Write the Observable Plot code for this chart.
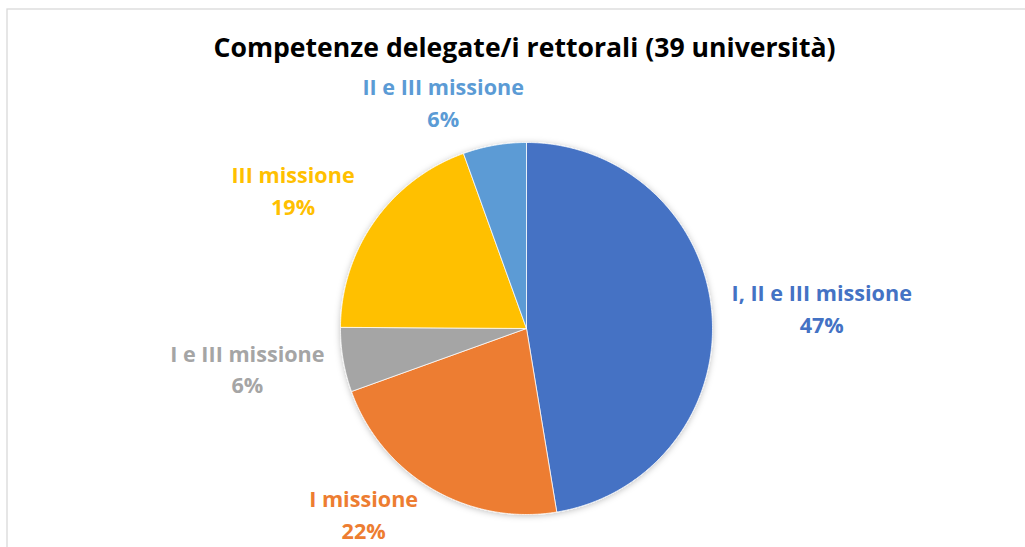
<!DOCTYPE html>
<html>
<head>
<meta charset="utf-8">
<script src="https://cdn.jsdelivr.net/npm/d3@7"></script>
<script src="https://cdn.jsdelivr.net/npm/@observablehq/plot@0.6"></script>
<style>
  html, body { margin: 0; padding: 0; overflow: hidden; background: #fff; }
  #chart { width: 1025px; height: 547px; }
</style>
</head>
<body>
<div id="chart"></div>
<script>
// ---- data ----
const title = "Competenze delegate/i rettorali (39 università)";
const categories = ["I, II e III missione", "I missione", "I e III missione", "III missione", "II e III missione"];
const values = [47.4, 22.1, 5.6, 19.4, 5.5];
const colors = ["#4472C4", "#ED7D31", "#A5A5A5", "#FFC000", "#5B9BD5"];

// ---- layout ----
const W = 1025, H = 547;
const cx = 526, cy = 328, R = 186;
const FONT = "'Open Sans', Lato, sans-serif";
const titleSize = 26.6, labelSize = 21.6, lineGap = 32;
const labelGap = 20;
const labelNudge = [[0, 0], [-31, -11], [0, 3], [-15, -4], [-34, 1]];

const total = d3.sum(values);
const arcs = d3.pie().sort(null).startAngle(0).endAngle(2 * Math.PI)(values);

// slice polygons in unit (radius = 1) coordinates
const slices = [];
arcs.forEach((a, i) => {
  const n = Math.max(2, Math.ceil((a.endAngle - a.startAngle) / (Math.PI / 360)));
  slices.push({cat: categories[i], x: 0, y: 0});
  for (let k = 0; k <= n; k++) {
    const t = a.startAngle + (a.endAngle - a.startAngle) * k / n;
    slices.push({cat: categories[i], x: Math.sin(t), y: Math.cos(t)});
  }
  slices.push({cat: categories[i], x: 0, y: 0});
});

// labels placed outside the end of each slice
const ctx = document.createElement("canvas").getContext("2d");
ctx.font = `bold ${labelSize}px ${FONT}`;
const labels = arcs.map((a, i) => {
  const m = (a.startAngle + a.endAngle) / 2;
  const s = Math.sin(m), c = Math.cos(m);
  const w = ctx.measureText(categories[i]).width;
  const h = lineGap + labelSize * 0.7;
  let px = cx + (R + labelGap) * s + s * w / 2 + labelNudge[i][0];
  let py = cy - (R + labelGap) * c - c * h / 2 + labelNudge[i][1];
  return {
    cat: categories[i],
    text: categories[i] + "\n" + Math.round(values[i] / total * 100) + "%",
    x: (px - cx) / R,
    y: (cy - py) / R
  };
});

const chart = Plot.plot({
  width: W,
  height: H,
  margin: 0,
  style: {fontFamily: FONT, background: "#fff", overflow: "hidden"},
  x: {domain: [-cx / R, (W - cx) / R], range: [0, W], axis: null},
  y: {domain: [-(H - cy) / R, cy / R], range: [H, 0], axis: null},
  color: {domain: categories, range: colors},
  marks: [
    Plot.frame({stroke: "#d9d9d9", strokeWidth: 1.3, insetLeft: 6.5, insetTop: 8.5, insetRight: -10, insetBottom: -10}),
    Plot.line(slices, {x: "x", y: "y", z: "cat", fill: "cat", stroke: "#fff", strokeWidth: 0.75, strokeLinejoin: "round", curve: "linear", className: "pie"}),
    Plot.text(labels, {x: "x", y: "y", dy: -3, text: "text", fill: "cat", fontSize: labelSize, fontWeight: "bold", lineHeight: lineGap / labelSize, lineAnchor: "middle", textAnchor: "middle"}),
    Plot.text([title], {frameAnchor: "top", dx: 11.5, dy: 38, lineAnchor: "top", fontSize: titleSize, fontWeight: "bold", fill: "#000"})
  ]
});

// soft shadow like the original
const svg = d3.select(chart);
const defs = svg.insert("defs", ":first-child");
const f = defs.append("filter").attr("id", "pieShadow").attr("x", "-20%").attr("y", "-20%").attr("width", "140%").attr("height", "140%");
f.append("feDropShadow").attr("dx", 0).attr("dy", 1).attr("stdDeviation", 3).attr("flood-color", "#000").attr("flood-opacity", 0.25);
svg.select("g.pie, .pie").attr("filter", "url(#pieShadow)");

document.getElementById("chart").appendChild(chart);
</script>
</body>
</html>
